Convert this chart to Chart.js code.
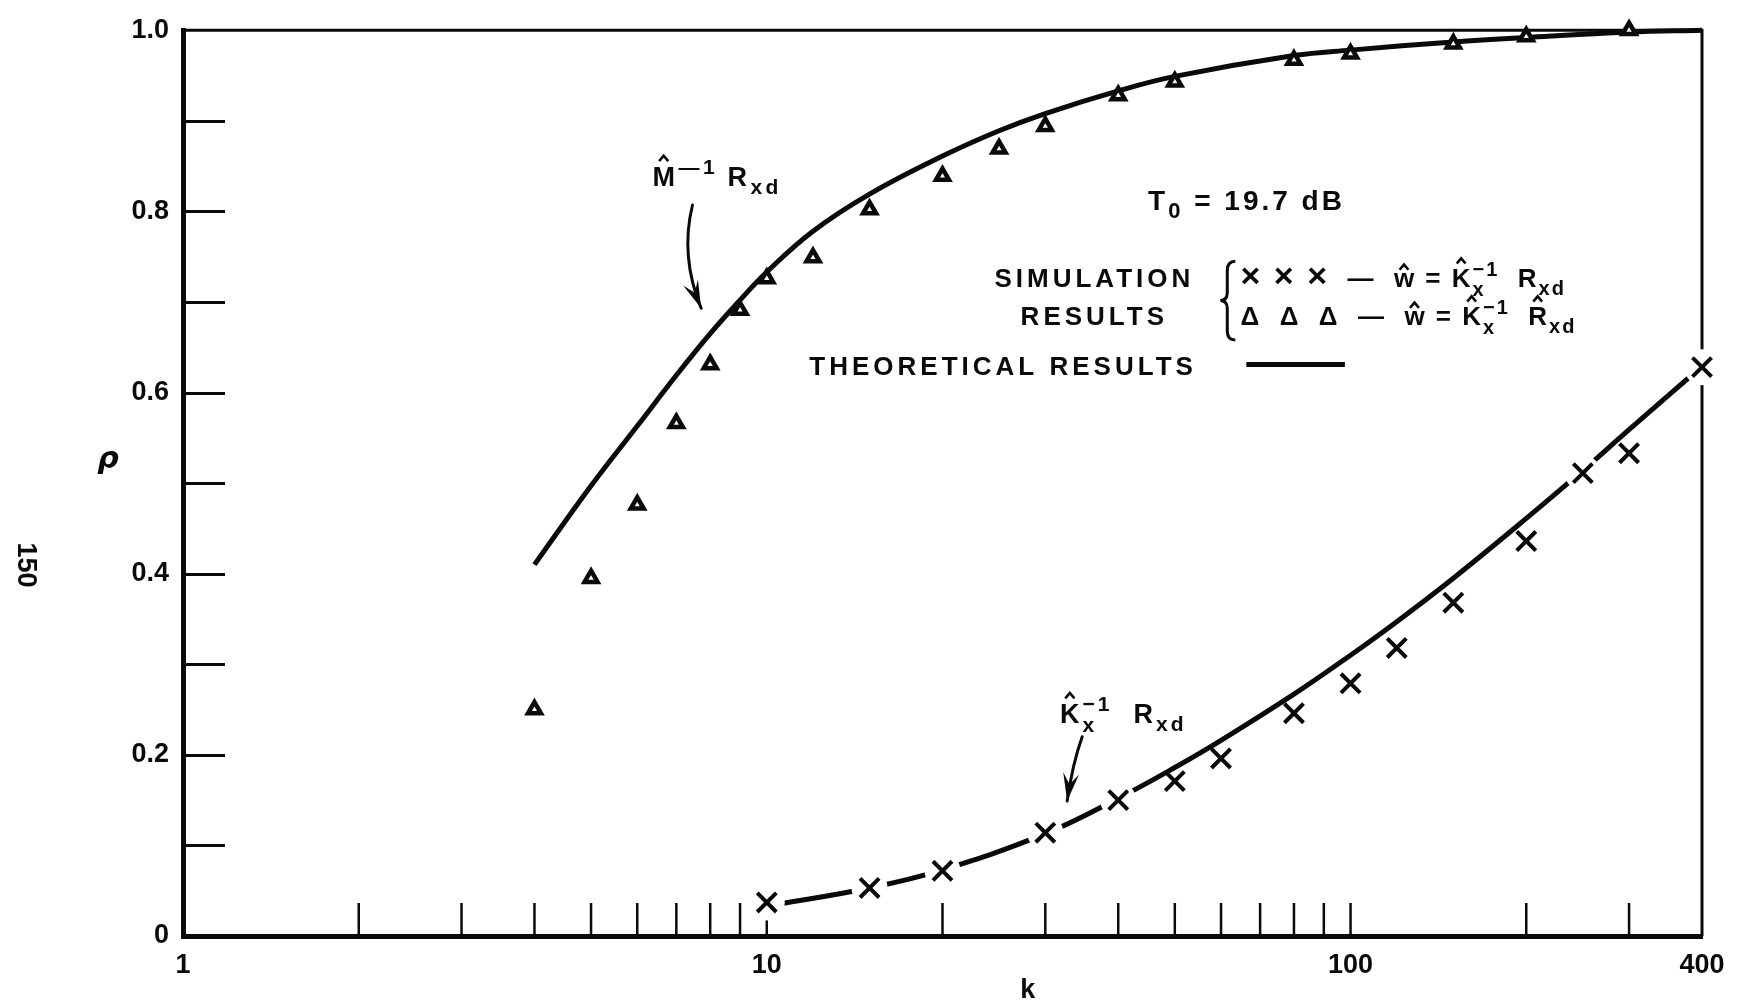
<!DOCTYPE html>
<html>
<head>
<meta charset="utf-8">
<title>Correlation coefficient versus number of samples</title>
<script src="https://cdn.jsdelivr.net/npm/chart.js@4.4.1/dist/chart.umd.min.js"></script>
<style>
  html, body { margin: 0; padding: 0; background: #fff; }
  #wrap { width: 1743px; height: 1004px; position: relative; }
</style>
</head>
<body>
<div id="wrap"><canvas id="c"></canvas></div>
<script>
// Simulation results, triangles: w = K̂x⁻¹ R̂xd
const kTri   = [4, 5, 6, 7, 8, 9, 10, 12, 15, 20, 25, 30, 40, 50, 80, 100, 150, 200, 300];
const rhoTri = [0.25, 0.395, 0.476, 0.566, 0.631, 0.691, 0.726, 0.749, 0.802, 0.839, 0.869, 0.894, 0.928, 0.943, 0.967, 0.974, 0.985, 0.993, 1.0];

// Simulation results, crosses: w = K̂x⁻¹ Rxd
const kCross   = [10, 15, 20, 30, 40, 50, 60, 80, 100, 120, 150, 200, 250, 300, 400];
const rhoCross = [0.037, 0.053, 0.072, 0.114, 0.150, 0.171, 0.196, 0.246, 0.279, 0.318, 0.368, 0.436, 0.511, 0.533, 0.628];

// Theoretical curve for M̂⁻¹ Rxd
const kTheoryM   = [4, 5, 6, 7, 8, 9, 10, 12, 15, 20, 25, 30, 40, 50, 80, 100, 150, 200, 300, 400];
const rhoTheoryM = [0.41, 0.497, 0.563, 0.619, 0.665, 0.702, 0.733, 0.778, 0.819, 0.861, 0.889, 0.908, 0.933, 0.949, 0.972, 0.978, 0.987, 0.992, 0.998, 1.0];

// Theoretical curve for K̂x⁻¹ Rxd (sampled at the same k as the crosses)
const kTheoryK   = [10, 15, 20, 30, 40, 50, 60, 80, 100, 120, 150, 200, 250, 300, 400];
const rhoTheoryK = [0.033, 0.053, 0.073, 0.113, 0.152, 0.186, 0.216, 0.267, 0.310, 0.347, 0.395, 0.461, 0.514, 0.559, 0.629];

// Axis ticks
const xTickValues = [1, 2, 3, 4, 5, 6, 7, 8, 9, 10, 20, 30, 40, 50, 60, 70, 80, 90, 100, 200, 300, 400];
const xTickLabels = { 1: '1', 10: '10', 100: '100', 400: '400' };
const yTickValues = [0, 0.1, 0.2, 0.3, 0.4, 0.5, 0.6, 0.7, 0.8, 0.9, 1.0];
const yTickLabels = ['0', '', '0.2', '', '0.4', '', '0.6', '', '0.8', '', '1.0'];

const FONT = "'Liberation Sans', Arial, sans-serif";
const INK = '#0a0a0a';

const toXY = (ks, vs) => ks.map((k, i) => ({ x: k, y: vs[i] }));

// ---- small text helpers for the hand-lettered labels ----
function hat(ctx, cx, top, w, h, lw) {
  ctx.save();
  ctx.lineWidth = lw;
  ctx.lineJoin = 'miter';
  ctx.beginPath();
  ctx.moveTo(cx - w / 2, top + h);
  ctx.lineTo(cx, top);
  ctx.lineTo(cx + w / 2, top + h);
  ctx.stroke();
  ctx.restore();
}

// parts: {t, sub, sup, scale, hat:'cap'|'low'} or {stack:true, sup, sub}
function rich(ctx, parts, x, y, size, spacing, draw) {
  let cx = x;
  ctx.letterSpacing = spacing + 'px';
  ctx.textAlign = 'left';
  ctx.textBaseline = 'alphabetic';
  const small = size * 0.78;
  for (const p of parts) {
    if (p.stack) {
      ctx.font = `bold ${Math.round(small)}px ${FONT}`;
      const w = Math.max(ctx.measureText(p.sup).width, ctx.measureText(p.sub).width);
      if (draw) {
        ctx.fillText(p.sup, cx, y - size * 0.45);
        ctx.fillText(p.sub, cx, y + size * 0.32);
      }
      cx += w;
    } else {
      const s = (p.sub || p.sup) ? small : size * (p.scale || 1);
      ctx.font = `bold ${Math.round(s)}px ${FONT}`;
      const w = ctx.measureText(p.t).width;
      const dy = p.sub ? size * 0.3 : (p.sup ? -size * 0.45 : 0);
      if (draw) {
        ctx.fillText(p.t, cx, y + dy);
        if (p.hat) {
          const mid = cx + (w - spacing) / 2;
          const top = p.hat === 'cap' ? y - size * 1.12 : y - size * 0.88;
          hat(ctx, mid, top, size * 0.34, size * 0.2, 2.6);
        }
      }
      cx += w;
    }
  }
  return cx - x;
}

function richAt(ctx, parts, x, y, size, spacing, align) {
  const w = rich(ctx, parts, 0, 0, size, spacing, false);
  let x0 = x;
  if (align === 'center') x0 = x - w / 2;
  else if (align === 'right') x0 = x - w;
  rich(ctx, parts, x0, y, size, spacing, true);
}

function arrow(ctx, x0, y0, cx, cy, x1, y1) {
  ctx.save();
  ctx.lineWidth = 3;
  ctx.lineCap = 'round';
  ctx.beginPath();
  ctx.moveTo(x0, y0);
  ctx.quadraticCurveTo(cx, cy, x1, y1);
  ctx.stroke();
  const a = Math.atan2(y1 - cy, x1 - cx);
  const L = 28, W = 8;
  const ca = Math.cos(a), sa = Math.sin(a);
  ctx.beginPath();
  ctx.moveTo(x1, y1);
  ctx.lineTo(x1 - L * ca + W * sa, y1 - L * sa - W * ca);
  ctx.lineTo(x1 - L * 0.6 * ca, y1 - L * 0.6 * sa);
  ctx.lineTo(x1 - L * ca - W * sa, y1 - L * sa + W * ca);
  ctx.closePath();
  ctx.fill();
  ctx.restore();
}

// ---- plot frame and inward tick marks ----
const framePlugin = {
  id: 'frame',
  beforeDatasetsDraw(chart) {
    const { ctx, chartArea: ca, scales: { x, y } } = chart;
    ctx.save();
    ctx.strokeStyle = INK;
    ctx.lineCap = 'butt';
    // top and right edges of the frame
    ctx.lineWidth = 3;
    ctx.beginPath();
    ctx.moveTo(ca.left, ca.top);
    ctx.lineTo(ca.right, ca.top);
    ctx.lineTo(ca.right, ca.bottom);
    ctx.stroke();
    // y ticks pointing into the plot
    ctx.lineWidth = 3;
    for (const t of y.ticks) {
      if (t.value <= y.min || t.value >= y.max) continue;
      const py = Math.round(y.getPixelForValue(t.value)) + 0.5;
      ctx.beginPath();
      ctx.moveTo(ca.left, py);
      ctx.lineTo(ca.left + 42, py);
      ctx.stroke();
    }
    // x ticks pointing into the plot
    ctx.lineWidth = 2.5;
    for (const t of x.ticks) {
      if (t.value <= x.min || t.value >= x.max) continue;
      const px = x.getPixelForValue(t.value);
      ctx.beginPath();
      ctx.moveTo(px, ca.bottom);
      ctx.lineTo(px, ca.bottom - 33);
      ctx.stroke();
    }
    ctx.restore();
  }
};

// ---- labels, legend block and pointer arrows ----
const labelPlugin = {
  id: 'labels',
  afterDraw(chart) {
    const { ctx, chartArea: ca, scales: { x, y } } = chart;
    const X = v => x.getPixelForValue(v);
    const Y = v => y.getPixelForValue(v);
    ctx.save();
    ctx.fillStyle = INK;
    ctx.strokeStyle = INK;

    // axis titles
    ctx.letterSpacing = '0px';
    ctx.textAlign = 'center';
    ctx.textBaseline = 'alphabetic';
    ctx.font = `bold 27px ${FONT}`;
    ctx.fillText('k', X(28), ca.bottom + 62);
    ctx.font = `italic bold 30px 'DejaVu Sans', ${FONT}`;
    ctx.textBaseline = 'middle';
    ctx.fillText('ρ', ca.left - 75, Y(0.525));

    // page number printed sideways in the margin
    ctx.save();
    ctx.translate(25, 565);
    ctx.rotate(Math.PI / 2);
    ctx.font = `bold 27px ${FONT}`;
    ctx.textAlign = 'center';
    ctx.textBaseline = 'middle';
    ctx.fillText('150', 0, 0);
    ctx.restore();

    const S = 26;
    // T0 = 19.7 dB
    richAt(ctx, [{ t: 'T' }, { t: '0', sub: true }, { t: ' = 19.7 dB' }], X(45), Y(0.802), 28, 3, 'left');

    // legend block
    ctx.font = `bold ${S}px ${FONT}`;
    ctx.letterSpacing = '4px';
    ctx.textAlign = 'center';
    ctx.textBaseline = 'alphabetic';
    ctx.fillText('SIMULATION', X(36.4), Y(0.716));
    ctx.fillText('RESULTS', X(36.4), Y(0.674));
    ctx.fillText('THEORETICAL RESULTS', X(25.4), Y(0.619));

    // curly brace grouping the two simulation rows
    const bx = X(61.5), bt = Y(0.745), bb = Y(0.658), bm = (bt + bb) / 2;
    ctx.lineWidth = 3;
    ctx.beginPath();
    ctx.moveTo(bx + 8, bt);
    ctx.quadraticCurveTo(bx, bt, bx, bt + 9);
    ctx.lineTo(bx, bm - 8);
    ctx.quadraticCurveTo(bx, bm, bx - 7, bm);
    ctx.quadraticCurveTo(bx, bm, bx, bm + 8);
    ctx.lineTo(bx, bb - 9);
    ctx.quadraticCurveTo(bx, bb, bx + 8, bb);
    ctx.stroke();

    richAt(ctx, [
      { t: '× × ×', scale: 1.3 }, { t: '  —  ' }, { t: 'w', hat: 'low' }, { t: ' = ' }, { t: 'K', hat: 'cap' },
      { stack: true, sup: '−1', sub: 'x' }, { t: '  R' }, { t: 'xd', sub: true }
    ], X(64.8), Y(0.716), S, 2, 'left');
    richAt(ctx, [
      { t: 'Δ  Δ  Δ' }, { t: '  —  ' }, { t: 'w', hat: 'low' }, { t: ' = ' }, { t: 'K', hat: 'cap' },
      { stack: true, sup: '−1', sub: 'x' }, { t: '  ' }, { t: 'R', hat: 'cap' }, { t: 'xd', sub: true }
    ], X(64.8), Y(0.674), S, 2, 'left');

    // legend sample of the theoretical line
    ctx.lineWidth = 5;
    ctx.lineCap = 'butt';
    ctx.beginPath();
    ctx.moveTo(X(66.3), Y(0.631));
    ctx.lineTo(X(97.8), Y(0.631));
    ctx.stroke();

    // curve labels with pointer arrows
    richAt(ctx, [{ t: 'M', hat: 'cap' }, { t: '—1 ', sup: true }, { t: 'R' }, { t: 'xd', sub: true }],
      X(6.37), Y(0.828), 27, 3.5, 'left');
    arrow(ctx, X(7.46), Y(0.807), X(7.1), Y(0.75), X(7.72), Y(0.693));

    richAt(ctx, [{ t: 'K', hat: 'cap' }, { stack: true, sup: '−1', sub: 'x' }, { t: '  R' }, { t: 'xd', sub: true }],
      X(31.8), Y(0.235), 27, 3, 'left');
    arrow(ctx, X(34.7), Y(0.22), X(33.4), Y(0.19), X(32.7), Y(0.149));

    ctx.restore();
  }
};

const tickFont = { family: FONT, size: 27, weight: 'bold' };

new Chart(document.getElementById('c'), {
  type: 'line',
  data: {
    datasets: [
      {
        label: 'Simulation, w = K̂x⁻¹ R̂xd',
        data: toXY(kTri, rhoTri),
        showLine: false,
        pointStyle: 'triangle',
        pointRadius: 7.5,
        pointBorderWidth: 4.5,
        pointBorderColor: INK,
        pointBackgroundColor: '#fff',
        clip: false,
        order: 0
      },
      {
        label: 'Simulation, w = K̂x⁻¹ Rxd',
        data: toXY(kCross, rhoCross),
        showLine: false,
        pointStyle: 'crossRot',
        pointRadius: 13.5,
        pointBorderWidth: 4,
        pointBorderColor: INK,
        clip: false,
        order: 1
      },
      {
        // white clearance where the theoretical line runs through a cross,
        // so the line breaks around it
        label: 'cross clearance',
        data: toXY(kCross, rhoCross),
        showLine: false,
        pointStyle: 'circle',
        pointRadius: c => Math.abs(rhoTheoryK[c.dataIndex] - rhoCross[c.dataIndex]) < 0.01 ? 18 : 0,
        pointBorderWidth: 0,
        pointBorderColor: '#fff',
        pointBackgroundColor: '#fff',
        clip: false,
        order: 2
      },
      {
        label: 'Theory, M̂⁻¹ Rxd',
        data: toXY(kTheoryM, rhoTheoryM),
        borderColor: INK,
        borderWidth: 5,
        pointRadius: 0,
        tension: 0.4,
        clip: false,
        order: 3
      },
      {
        label: 'Theory, K̂x⁻¹ Rxd',
        data: toXY(kTheoryK, rhoTheoryK),
        borderColor: INK,
        borderWidth: 5,
        pointRadius: 0,
        tension: 0.4,
        clip: false,
        order: 3
      }
    ]
  },
  options: {
    responsive: true,
    maintainAspectRatio: false,
    animation: false,
    events: [],
    layout: { padding: { left: 0, right: 41, top: 25, bottom: 0 } },
    plugins: { legend: { display: false }, tooltip: { enabled: false } },
    scales: {
      x: {
        type: 'logarithmic',
        min: 1,
        max: 400,
        afterBuildTicks: s => { s.ticks = xTickValues.map(v => ({ value: v })); },
        afterFit: s => { s.height = 68; },
        ticks: {
          autoSkip: false,
          maxRotation: 0,
          padding: 13,
          color: INK,
          font: tickFont,
          callback: v => xTickLabels[v] || ''
        },
        grid: { display: false, drawTicks: false },
        border: { display: true, width: 5, color: INK }
      },
      y: {
        type: 'linear',
        min: 0,
        max: 1,
        afterBuildTicks: s => { s.ticks = yTickValues.map(v => ({ value: v })); },
        afterFit: s => { s.width = 183; },
        ticks: {
          autoSkip: false,
          padding: 14,
          color: INK,
          font: tickFont,
          callback: (v, i) => yTickLabels[i]
        },
        grid: { display: false, drawTicks: false },
        border: { display: true, width: 5, color: INK }
      }
    }
  },
  plugins: [framePlugin, labelPlugin]
});
</script>
</body>
</html>
